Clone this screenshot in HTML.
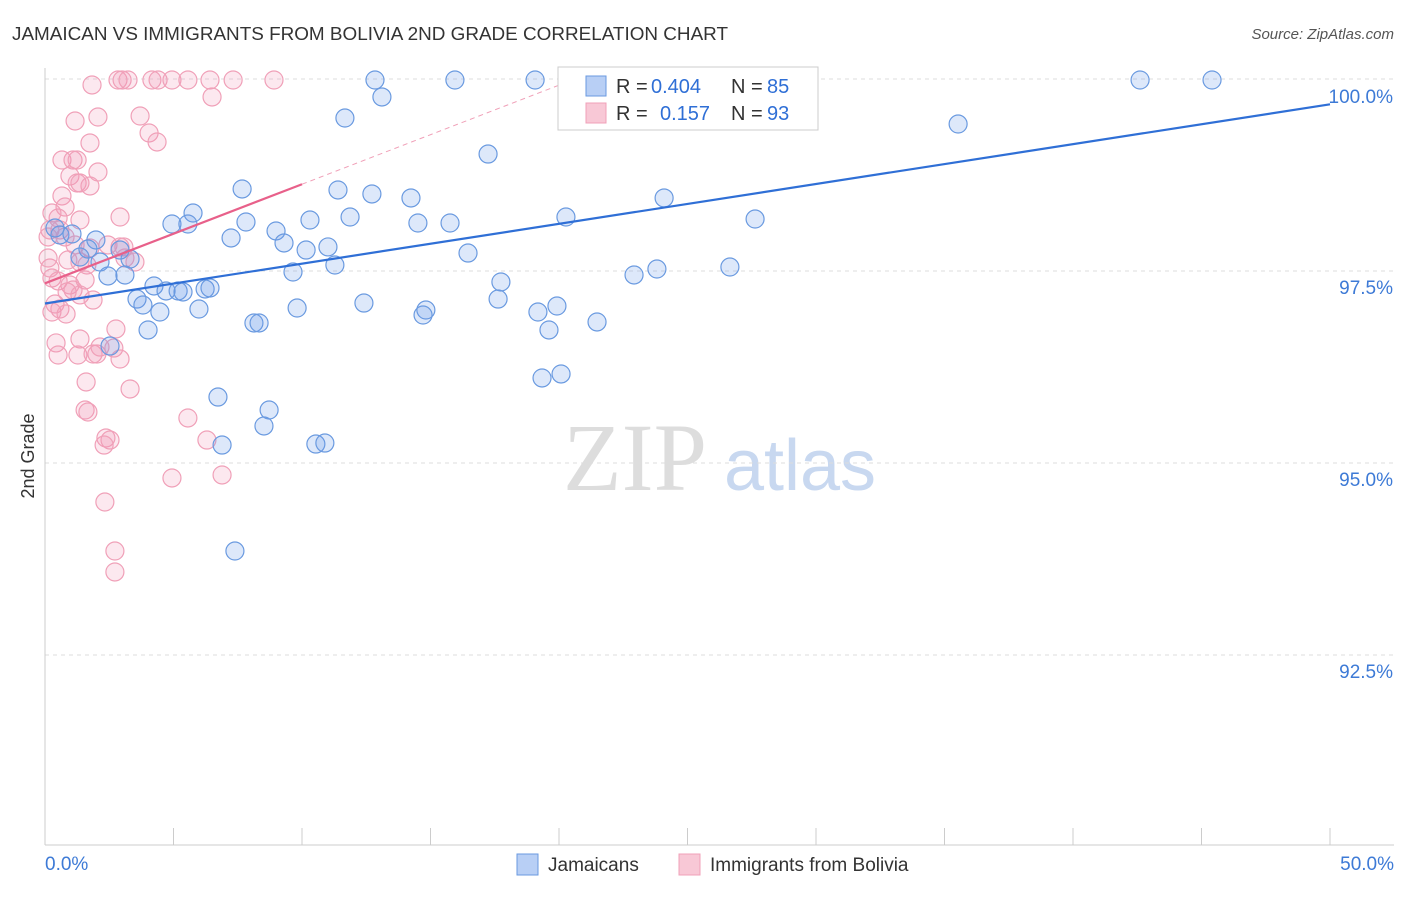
<!DOCTYPE html>
<html><head><meta charset="utf-8"><style>
body{margin:0;background:#fff;font-family:"Liberation Sans",sans-serif;}
</style></head><body>
<svg id="c" width="1406" height="892" xmlns="http://www.w3.org/2000/svg">
<text x="12" y="40" font-size="18.5" fill="#333" textLength="716" lengthAdjust="spacingAndGlyphs">JAMAICAN VS IMMIGRANTS FROM BOLIVIA 2ND GRADE CORRELATION CHART</text>
<text x="1394" y="39" font-size="15" fill="#555" text-anchor="end" font-style="italic">Source: ZipAtlas.com</text>
<text x="34" y="456" font-size="18" fill="#333" text-anchor="middle" transform="rotate(-90 34 456)">2nd Grade</text>
<g><text x="635" y="490" font-size="96" fill="#ddd" font-family="Liberation Serif,serif" text-anchor="middle">ZIP</text><text x="800" y="490" font-size="72" fill="#c8d8f0" text-anchor="middle">atlas</text></g>
<g id="grid"></g><g id="axes"></g><g id="pts"></g><g id="lines"></g>
<g>
<rect x="558" y="67" width="260" height="63" fill="#fff" stroke="#ccc"/>
<rect x="586" y="76" width="20" height="20" fill="#b8cff5" stroke="#6a9ae0"/>
<text x="616" y="93" font-size="20" fill="#333">R =</text>
<text x="651" y="93" font-size="20" fill="#2f6fd6">0.404</text>
<text x="731" y="93" font-size="20" fill="#333">N =</text>
<text x="767" y="93" font-size="20" fill="#2f6fd6">85</text>
<rect x="586" y="103" width="20" height="20" fill="#f8c8d6" stroke="#f0a0b8"/>
<text x="616" y="120" font-size="20" fill="#333">R =</text>
<text x="660" y="120" font-size="20" fill="#2f6fd6">0.157</text>
<text x="731" y="120" font-size="20" fill="#333">N =</text>
<text x="767" y="120" font-size="20" fill="#2f6fd6">93</text>
</g>
<g>
<rect x="517" y="854" width="21" height="21" fill="#b8cff5" stroke="#6a9ae0"/>
<text x="548" y="871" font-size="19" fill="#333">Jamaicans</text>
<rect x="679" y="854" width="21" height="21" fill="#f8c8d6" stroke="#f0a0b8"/>
<text x="710" y="871" font-size="19" fill="#333">Immigrants from Bolivia</text>
</g>
<text x="45" y="870" font-size="19" fill="#3d7ad6">0.0%</text>
<text x="1394" y="870" font-size="19" fill="#3d7ad6" text-anchor="end">50.0%</text>
</svg>
<script>
const yTicks=[100,97.5,95,92.5];
const yTickLabels=["100.0%","97.5%","95.0%","92.5%"];
const bluePx=[[375,80],[455,80],[535,80],[725,80],[745,80],[780,86],[1140,80],[1212,80],[382,97],[345,118],[958,124],[488,154],[242,189],[338,190],[372,194],[411,198],[664,198],[193,213],[172,224],[188,224],[246,222],[310,220],[350,217],[418,223],[450,223],[566,217],[755,219],[276,231],[231,238],[284,243],[306,250],[328,247],[468,253],[55,228],[60,235],[72,234],[96,240],[88,249],[80,257],[100,262],[130,259],[120,250],[108,276],[125,275],[335,265],[293,272],[634,275],[657,269],[730,267],[501,282],[154,286],[166,291],[178,291],[183,292],[205,289],[210,288],[137,299],[143,305],[160,312],[199,309],[297,308],[364,303],[426,310],[423,315],[498,299],[538,312],[557,306],[549,330],[148,330],[254,323],[259,323],[597,322],[110,346],[542,378],[561,374],[218,397],[269,410],[264,426],[222,445],[316,444],[325,443],[235,551]];
const pinkPx=[[92,85],[118,80],[122,80],[128,80],[152,80],[158,80],[172,80],[188,80],[210,80],[233,80],[274,80],[212,97],[140,116],[98,117],[75,121],[149,133],[157,142],[90,143],[62,160],[73,160],[77,160],[98,172],[70,176],[77,183],[90,186],[80,183],[62,196],[65,207],[58,218],[80,220],[120,217],[52,213],[50,230],[60,230],[48,237],[65,237],[75,245],[90,248],[108,245],[124,247],[125,258],[135,262],[120,247],[68,260],[80,262],[87,265],[50,268],[52,278],[58,281],[70,285],[85,280],[73,290],[67,292],[80,295],[93,300],[55,304],[60,309],[52,312],[66,314],[116,329],[80,339],[56,343],[58,355],[78,355],[93,354],[97,354],[100,347],[114,348],[120,359],[130,389],[86,382],[85,410],[88,412],[188,418],[106,438],[110,440],[104,445],[207,440],[222,475],[172,478],[105,502],[115,551],[115,572],[48,258]];
const blueX=bluePx.map(p=>+((p[0]-45)/1285*50).toFixed(2)), blueY=bluePx.map(p=>+(100-(p[1]-79)/76.8).toFixed(3));
const pinkX=pinkPx.map(p=>+((p[0]-45)/1285*50).toFixed(2)), pinkY=pinkPx.map(p=>+(100-(p[1]-79)/76.8).toFixed(3));
const blueTrend=[[0,97.077],[50,99.67]];
const pinkTrend=[[0,97.34],[10,98.63]];
const X=v=>45+v/50*1285, Y=v=>79+(100-v)*76.8;
const NS="http://www.w3.org/2000/svg";
function mk(t,a,p){const e=document.createElementNS(NS,t);for(const k in a)e.setAttribute(k,a[k]);document.getElementById(p).appendChild(e);return e;}
yTicks.forEach((t,i)=>{const l=mk('line',{x1:45,x2:1394,y1:Y(t),y2:Y(t),stroke:'#ddd','stroke-dasharray':'4,4'},'grid');


const tx=mk('text',{x:1393,y:Y(t)+(i==0?24:23),'font-size':19,fill:'#3d7ad6','text-anchor':'end'},'grid');tx.textContent=yTickLabels[i];

});
let a=mk('line',{x1:45,x2:45,y1:68,y2:845,stroke:'#ccc'},'axes');


a=mk('line',{x1:45,x2:1394,y1:845,y2:845,stroke:'#ccc'},'axes');


for(let i=0;i<=10;i++){const t=mk('line',{x1:X(i*5),x2:X(i*5),y1:828,y2:845,stroke:'#ccc'},'axes');

}
function pts(xs,ys,fill,stroke,name){xs.forEach((x,i)=>{const c=mk('circle',{cx:X(x),cy:Y(ys[i]),r:9,fill:fill,stroke:stroke,'stroke-width':1.2},'pts');

});}
pts(pinkX,pinkY,'rgba(240,150,180,0.22)','#f0a0b8','bolivia-point');
pts(blueX,blueY,'rgba(100,150,230,0.22)','#6a9ae0','jamaican-point');
let l=mk('line',{x1:X(blueTrend[0][0]),y1:Y(blueTrend[0][1]),x2:X(blueTrend[1][0]),y2:Y(blueTrend[1][1]),stroke:'#2f6fd6','stroke-width':2.2},'lines');


const slope=(pinkTrend[1][1]-pinkTrend[0][1])/(pinkTrend[1][0]-pinkTrend[0][0]);
l=mk('line',{x1:X(pinkTrend[1][0]),y1:Y(pinkTrend[1][1]),x2:X(20),y2:Y(pinkTrend[0][1]+slope*20),stroke:'#f0a0b8','stroke-width':1,'stroke-dasharray':'5,4'},'lines');


l=mk('line',{x1:X(pinkTrend[0][0]),y1:Y(pinkTrend[0][1]),x2:X(pinkTrend[1][0]),y2:Y(pinkTrend[1][1]),stroke:'#e8608a','stroke-width':2.2},'lines');


</script>
</body></html>
